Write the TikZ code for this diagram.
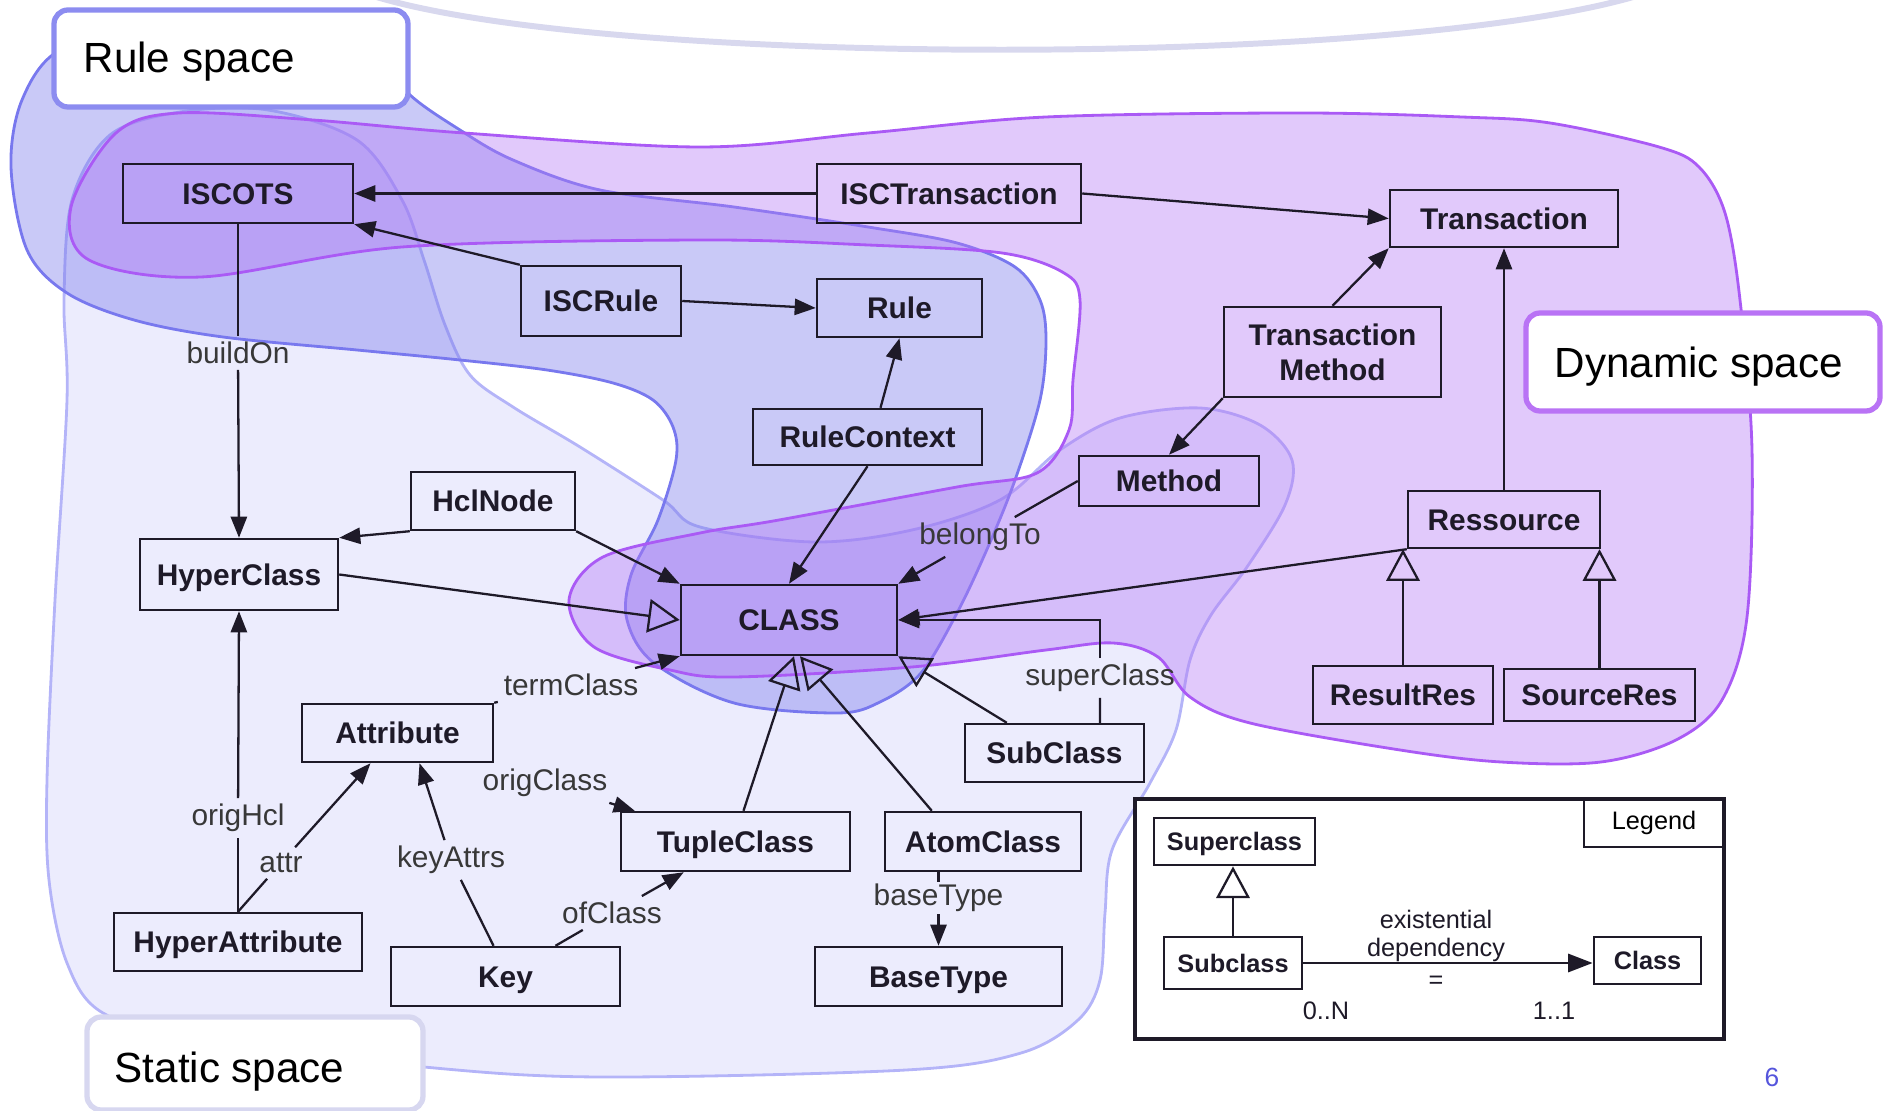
\documentclass[tikz,border=0pt]{standalone}
\usepackage{fontspec}
\setmainfont{Liberation Sans}
\usetikzlibrary{arrows.meta}
\definecolor{stfill}{RGB}{200,200,250}
\definecolor{stline}{RGB}{180,180,248}
\definecolor{rufill}{RGB}{120,120,235}
\definecolor{ruline}{RGB}{120,120,238}
\definecolor{dyfill}{RGB}{180,120,245}
\definecolor{dyline}{RGB}{170,90,245}
\definecolor{arcc}{RGB}{216,216,238}
\definecolor{rsbox}{RGB}{140,140,240}
\definecolor{dsbox}{RGB}{185,115,245}
\definecolor{ssbox}{RGB}{215,215,240}
\definecolor{ink}{RGB}{30,26,40}
\definecolor{pgc}{RGB}{85,85,220}
\begin{document}
\begin{tikzpicture}[x=0.1mm,y=-0.1mm,
  cls/.style={draw=ink, line width=0.7pt, font=\bfseries\fontsize{8.5}{10}\selectfont, text=ink, inner sep=0pt, text height=6.1pt, text depth=0pt},
  clsm/.style={draw=ink, line width=0.7pt, font=\bfseries\fontsize{8.5}{10}\selectfont, text=ink, inner sep=0pt, align=center},
  lcls/.style={draw=ink, line width=0.8pt, font=\bfseries\fontsize{7.2}{9}\selectfont, text=ink, inner sep=0pt, text height=5.2pt, text depth=0pt},
  lbl/.style={font=\fontsize{8.5}{10}\selectfont, text=black!78, inner sep=1.5pt},
  lgt/.style={font=\fontsize{7.2}{9}\selectfont, text=ink, inner sep=0.5pt},
  plain/.style={line width=0.65pt, draw=ink},
  assoc/.style={line width=0.65pt, draw=ink, -{Triangle[length=6pt,width=4.6pt]}},
  gen/.style={line width=0.65pt, draw=ink, -{Triangle[open,length=9pt,width=9.5pt]}},
  spacebox/.style={line width=1.5pt, rounded corners=4pt, fill=white, inner sep=0pt},
  spacetxt/.style={font=\fontsize{12}{14}\selectfont, anchor=base west, inner sep=0pt, text=black}
]
\useasboundingbox (0,0) rectangle (1886,1111);

% top arc
\draw[line width=1.7pt, draw=arcc] (370,-5) .. controls (600,68) and (1400,68) .. (1640,-5);

% static space region
\path[fill=stfill, fill opacity=0.35, draw=stline, line width=0.8pt]
  plot[smooth cycle, tension=0.55] coordinates {
  (67,400) (64,300) (72,200) (110,135) (180,112) (268,110) (357,140) (402,200) (424,260)
  (445,325) (470,375) (513,407) (580,447) (663,500) (700,527) (814,542) (912,530) (1000,500) (1060,450)
  (1120,418) (1200,408) (1260,425) (1292,460) (1285,505) (1247,567) (1211,615)
  (1190,660) (1176,730) (1150,783) (1112,850) (1105,913) (1100,980) (1078,1020)
  (1021,1053) (906,1070) (600,1077) (424,1067) (200,1040) (103,1013) (67,963)
  (49,880) (47,780) (55,600)};

% rule space region
\path[fill=rufill, fill opacity=0.4, draw=ruline, line width=0.8pt]
  plot[smooth cycle, tension=0.55] coordinates {
  (150,30) (380,50) (408,93) (460,130) (513,160) (600,190) (734,207) (868,227)
  (957,243) (1015,267) (1040,300) (1046,340) (1040,400) (1015,480) (988,547)
  (957,613) (921,673) (880,702) (837,713) (734,703) (654,663) (627,620) (631,575)
  (658,520) (676,460) (673,427) (653,400) (613,383) (547,370) (460,360) (357,350) (223,337)
  (134,320) (67,293) (27,250) (11,167) (22,100) (60,50)};

% dynamic space region
\path[fill=dyfill, fill opacity=0.4, draw=dyline, line width=0.8pt]
  plot[smooth cycle, tension=0.55] coordinates {
  (71,207) (116,133) (179,113) (313,120) (464,133) (700,147) (868,133) (1046,117)
  (1300,113) (1462,117) (1550,123) (1659,147) (1699,167) (1725,213) (1740,300)
  (1752,450) (1747,617) (1722,700) (1676,740) (1601,762) (1501,762) (1400,750)
  (1250,723) (1190,697) (1158,657) (1113,643) (1046,650) (912,667) (734,677)
  (670,670) (594,647) (569,600) (603,557) (700,533) (779,520) (957,487) (1037,473)
  (1069,430) (1073,380) (1080,300) (1064,273) (1002,253) (868,245) (700,240)
  (402,247) (201,277) (89,260)};

% space label boxes
\node[spacebox, draw=rsbox, minimum width=35.4mm, minimum height=9.7mm] (RSbox) at (231,58.5) {};
\node[spacetxt] (RStxt) at (83,73) {Rule space};
\node[spacebox, draw=dsbox, minimum width=35.4mm, minimum height=9.8mm] (DSbox) at (1703,362) {};
\node[spacetxt] (DStxt) at (1554,378) {Dynamic space};
\node[spacebox, draw=ssbox, minimum width=33.6mm, minimum height=9.3mm] (SSbox) at (255,1063.5) {};
\node[spacetxt] (SStxt) at (114,1082) {Static space};

% class nodes
\node[cls,minimum width=23mm,minimum height=5.9mm] (ISCOTS) at (238,193.5) {ISCOTS};
\node[cls,minimum width=26.4mm,minimum height=5.9mm] (ISCT) at (949,193.5) {ISCTransaction};
\node[cls,minimum width=22.8mm,minimum height=5.7mm] (Trans) at (1504,218.5) {Transaction};
\node[cls,minimum width=16mm,minimum height=7mm] (ISCRule) at (601,301) {ISCRule};
\node[cls,minimum width=16.5mm,minimum height=5.8mm] (Rule) at (899.5,308) {Rule};
\node[clsm,minimum width=21.7mm,minimum height=9mm] (TM) at (1332.5,352) {Transaction\\Method};
\node[cls,minimum width=22.9mm,minimum height=5.6mm] (RC) at (867.5,437) {RuleContext};
\node[cls,minimum width=18mm,minimum height=5mm] (Method) at (1169,481) {Method};
\node[cls,minimum width=16.4mm,minimum height=5.8mm] (Hcl) at (493,501) {HclNode};
\node[cls,minimum width=19.8mm,minimum height=7.1mm] (HC) at (239,574.5) {HyperClass};
\node[cls,minimum width=21.6mm,minimum height=7mm] (CLASS) at (789,620) {CLASS};
\node[cls,minimum width=19.2mm,minimum height=5.7mm] (Res) at (1504,519.5) {Ressource};
\node[cls,minimum width=18mm,minimum height=5.8mm] (RR) at (1403,695) {ResultRes};
\node[cls,minimum width=19.1mm,minimum height=5.2mm] (SR) at (1599.5,695) {SourceRes};
\node[cls,minimum width=17.9mm,minimum height=5.8mm] (Sub) at (1054.5,753) {SubClass};
\node[cls,minimum width=19.1mm,minimum height=5.8mm] (Attr) at (397.5,733) {Attribute};
\node[cls,minimum width=22.9mm,minimum height=5.9mm] (Tuple) at (735.5,841.5) {TupleClass};
\node[cls,minimum width=19.6mm,minimum height=5.9mm] (Atom) at (983,841.5) {AtomClass};
\node[cls,minimum width=24.8mm,minimum height=5.8mm] (HA) at (238,942) {HyperAttribute};
\node[cls,minimum width=22.9mm,minimum height=5.9mm] (Key) at (505.5,976.5) {Key};
\node[cls,minimum width=24.7mm,minimum height=5.9mm] (BT) at (938.5,976.5) {BaseType};

% plain connectors
\draw[assoc] (ISCT.west) -- (ISCOTS.east);
\draw[assoc] (ISCRule.north west) -- (ISCOTS.south east);
\draw[assoc] (ISCRule.east) -- (Rule.west);
\draw[assoc] (ISCT.east) -- (Trans.west);
\draw[assoc] (TM.north) -- (Trans.south west);
\draw[assoc] (TM.south west) -- (Method.north);
\draw[assoc] (Res.north) -- (Trans.south);
\draw[gen] (RR.north) -- (RR.north |- Res.south);
\draw[gen] (SR.north) -- (SR.north |- Res.south);
\draw[assoc] (Res.south west) -- (CLASS.east);
\draw[gen] ([xshift=4.3mm]Sub.north west) -- (CLASS.south east);
\draw[gen] ([xshift=0.8mm]Tuple.north) -- ([xshift=0.5mm]CLASS.south);
\draw[gen] ([xshift=4.8mm]Atom.north west) -- ([xshift=1.1mm]CLASS.south);
\draw[gen] (HC.east) -- (CLASS.west);
\draw[assoc] (Hcl.south west) -- (HC.north east);
\draw[assoc] (Hcl.south east) -- (CLASS.north west);
\draw[assoc] ([xshift=1.3mm]RC.north) -- (Rule.south);
\draw[assoc] (RC.south) -- (CLASS.north);

% labelled connectors
\node[lbl] (bo) at (238,353) {buildOn};
\draw[plain] (ISCOTS.south) -- (bo);
\draw[assoc] (bo) -- (HC.north);
\node[lbl] (oh) at (238,818) {origHcl};
\draw[plain] (HA.north) -- (oh);
\draw[assoc] (oh) -- (HC.south);
\node[lbl] (at) at (281,863) {attr};
\draw[plain] (HA.north) -- (at);
\draw[assoc] (at) -- ([xshift=-2.7mm]Attr.south);
\node[lbl] (ka) at (451,860) {keyAttrs};
\draw[plain] ([xshift=-1.2mm]Key.north) -- (ka);
\draw[assoc] (ka) -- ([xshift=2.2mm]Attr.south);
\node[lbl] (ofc) at (612,913) {ofClass};
\draw[plain] ([xshift=5mm]Key.north) -- (ofc);
\draw[assoc] (ofc) -- ([xshift=6.4mm]Tuple.south west);
\node[lbl] (ocl) at (545,783) {origClass};
\draw[assoc] (ocl) -- ([xshift=1.5mm]Tuple.north west);
\node[lbl] (tcl) at (571,685) {termClass};
\draw[plain] (Attr.north east) -- (tcl);
\draw[assoc] (tcl) -- (CLASS.south west);
\node[lbl] (bto) at (980,537) {belongTo};
\draw[plain] (Method.west) -- (bto);
\draw[assoc] (bto) -- (CLASS.north east);
\node[lbl] (scl) at (1100,678) {superClass};
\draw[plain] ([xshift=4.55mm]Sub.north) -- (scl);
\draw[assoc] (scl) -- (scl |- CLASS.east) -- (CLASS.east);
\node[lbl, inner ysep=0.5pt] (btl) at (938.5,898) {baseType};
\draw[plain] (BT.north |- Atom.south) -- (btl);
\draw[assoc] (btl) -- (BT.north);

% legend
\node[draw=ink, line width=0.9pt, fill=white, minimum width=58.9mm, minimum height=24mm, inner sep=0pt] (Leg) at (1429.5,919) {};
\node[draw=ink, line width=0.8pt, font=\fontsize{7.2}{9}\selectfont, minimum width=14mm, minimum height=4.8mm, inner sep=0pt] (LegTag) at (1654,823) {Legend};
\node[lcls, minimum width=16.1mm, minimum height=4.7mm] (Sup) at (1234.5,841.5) {Superclass};
\node[lcls, minimum width=13.8mm, minimum height=5.2mm] (SubL) at (1233,963) {Subclass};
\node[lcls, minimum width=10.7mm, minimum height=4.7mm] (ClassL) at (1647.5,960.5) {Class};
\draw[gen] (SubL.north) -- (SubL.north |- Sup.south);
\node[lgt] (ex1) at (1436,919) {existential};
\node[lgt] (ex2) at (1436,950) {dependency};
\node[lgt] (ex3) at (1436,982) {=};
\node[lgt] (m1) at (1326,1011) {0..N};
\node[lgt] (m2) at (1554,1011) {1..1};
\draw[line width=0.7pt, draw=ink, -{Triangle[length=7pt,width=5.2pt]}] (SubL.east) -- (SubL.east -| ClassL.west);

% page number
\node[text=pgc, font=\fontsize{7.5}{9}\selectfont, inner sep=0pt] (pg) at (1772,1077) {6};
\end{tikzpicture}
\end{document}
